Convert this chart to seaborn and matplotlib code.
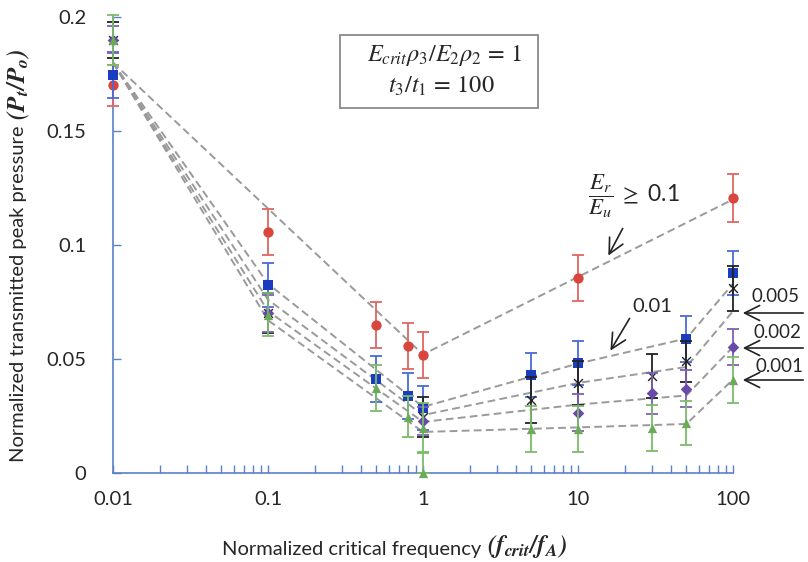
import numpy as np
import pandas as pd
import matplotlib
matplotlib.use("Agg")
import matplotlib.pyplot as plt
from matplotlib.patches import Rectangle
import seaborn as sns

# ---------------- data ----------------
# markers (mean +/- error)
red_x = [0.01, 0.1, 0.5, 0.8, 1, 10, 100]
red_y = [0.170, 0.1057, 0.065, 0.0557, 0.0518, 0.0855, 0.1206]
red_e = [0.009, 0.010, 0.010, 0.010, 0.010, 0.010, 0.0105]

blue_x = [0.01, 0.1, 0.5, 0.8, 1, 5, 10, 50, 100]
blue_y = [0.1745, 0.0825, 0.0412, 0.0338, 0.0285, 0.043, 0.0482, 0.0588, 0.0877]
blue_e = [0.010, 0.0095, 0.010, 0.010, 0.0095, 0.0098, 0.0098, 0.010, 0.0095]

black_x = [0.01, 0.1, 1, 5, 10, 30, 50, 100]
black_y = [0.190, 0.0702, 0.0246, 0.032, 0.0395, 0.0425, 0.049, 0.081]
black_e = [0.008, 0.0088, 0.0088, 0.010, 0.0095, 0.0095, 0.009, 0.010]

purple_x = [0.01, 0.1, 1, 10, 30, 50, 100]
purple_y = [0.190, 0.070, 0.0228, 0.0265, 0.035, 0.037, 0.0553]
purple_e = [0.006, 0.008, 0.006, 0.008, 0.009, 0.008, 0.008]

green_x = [0.01, 0.1, 0.5, 0.8, 1, 5, 10, 30, 50, 100]
green_y = [0.190, 0.0695, 0.0373, 0.0246, 0.0197, 0.0193, 0.0193, 0.0197, 0.022, 0.0408]
green_e = [0.011, 0.0095, 0.010, 0.009, 0.011, 0.010, 0.010, 0.010, 0.0095, 0.010]
green_extra_x = [1]
green_extra_y = [0.0]
green_extra_up = [0.009]

# dashed trend lines
trend_red_x = [0.01, 1, 100]
trend_red_y = [0.18, 0.052, 0.12]
trend_x = [0.01, 0.1, 1, 10, 50, 100]
trend_blue_y = [0.18, 0.083, 0.029, 0.048, 0.059, 0.083]
trend_black_y = [0.18, 0.076, 0.0254, 0.0395, 0.0465, 0.071]
trend_purple_y = [0.18, 0.071, 0.0224, 0.030, 0.034, 0.0553]
trend_green_y = [0.18, 0.067, 0.018, 0.020, 0.0215, 0.041]

x_ticks = [0.01, 0.1, 1, 10, 100]
x_ticklabels = ["0.01", "0.1", "1", "10", "100"]
y_ticks = [0, 0.05, 0.1, 0.15, 0.2]
y_ticklabels = ["0", "0.05", "0.1", "0.15", "0.2"]

# ---------------- style ----------------
sns.set_theme(style="white")
plt.rcParams["font.family"] = ["Lato", "DejaVu Sans"]
plt.rcParams["mathtext.fontset"] = "stix"

W, H = 808, 562
fig = plt.figure(figsize=(W / 100, H / 100), dpi=100)
ax = fig.add_axes([113 / W, 1 - 473 / H, (733 - 113) / W, (473 - 17) / H])

axis_col = "#5b7fc8"
txt_col = "#262626"

# trend lines via seaborn
rows = []
for xv, yv in zip(trend_red_x, trend_red_y):
    rows.append(("r", xv, yv))
for name, ys in [("b", trend_blue_y), ("k", trend_black_y),
                 ("p", trend_purple_y), ("g", trend_green_y)]:
    for xv, yv in zip(trend_x, ys):
        rows.append((name, xv, yv))
tdf = pd.DataFrame(rows, columns=["series", "x", "y"])
sns.lineplot(data=tdf, x="x", y="y", units="series", estimator=None,
             color="#9a9a9a", lw=1.4, ax=ax, sort=False,
             dashes=False, linestyle=(0, (4, 2.2)), zorder=1)

series = [
    (red_x, red_y, red_e, "#d9463e", "#e06660", "o", 55, None),
    (blue_x, blue_y, blue_e, "#1a3cc0", "#4a6ad8", "s", 45, None),
    (black_x, black_y, black_e, "#222222", "#222222", "x", 40, 1.0),
    (purple_x, purple_y, purple_e, "#6a4aa8", "#7d60b8", "D", 35, None),
    (green_x, green_y, green_e, "#6aaa58", "#7cbb6a", "^", 45, None),
]
z = 3
for xs, ys, es, mcol, ecol, mk, s, lw in series:
    ax.errorbar(xs, ys, yerr=es, fmt="none", ecolor=ecol, elinewidth=1.3,
                capsize=4, capthick=1.3, zorder=z, clip_on=False)
    dfm = pd.DataFrame({"x": xs, "y": ys})
    kw = dict(linewidth=lw) if lw else dict(linewidth=0)
    sns.scatterplot(data=dfm, x="x", y="y", marker=mk, s=s, color=mcol,
                    ax=ax, zorder=z + 1, clip_on=False, **kw)
    z += 2

ax.errorbar(green_extra_x, green_extra_y, yerr=[[0], green_extra_up], fmt="none",
            ecolor="#7cbb6a", elinewidth=1.3, capsize=4, capthick=1.3,
            zorder=z, clip_on=False)
sns.scatterplot(x=green_extra_x, y=green_extra_y, marker="^", s=45,
                color="#6aaa58", linewidth=0, ax=ax, zorder=z + 1, clip_on=False)

ax.set_xscale("log")
ax.set_xlim(0.01, 100)
ax.set_ylim(0, 0.2)
ax.set_xticks(x_ticks)
ax.set_xticklabels(x_ticklabels)
ax.set_yticks(y_ticks)
ax.set_yticklabels(y_ticklabels)
ax.xaxis.set_minor_locator(matplotlib.ticker.LogLocator(base=10, subs=np.arange(2, 10)))
ax.xaxis.set_minor_formatter(matplotlib.ticker.NullFormatter())
ax.set_xlabel("")
ax.set_ylabel("")

for sp in ["top", "right"]:
    ax.spines[sp].set_visible(False)
for sp in ["left", "bottom"]:
    ax.spines[sp].set_color(axis_col)
    ax.spines[sp].set_linewidth(1.2)

ax.tick_params(axis="x", which="both", direction="in", length=6, width=1,
               bottom=True, color=axis_col, labelsize=14.5, labelcolor=txt_col, pad=13)
ax.tick_params(axis="y", which="both", direction="in", length=6, width=1,
               left=True, color=axis_col, labelsize=14.5, labelcolor=txt_col, pad=19)

# axis titles: plain text + bold italic math part
renderer = fig.canvas.get_renderer()
xt = fig.text(222 / W, 1 - 549 / H, "Normalized critical frequency",
              ha="left", va="center", fontsize=14.5, color=txt_col)
bb = xt.get_window_extent(renderer)
fig.text((bb.x1 + 6) / W, 1 - 547 / H, r"$\mathbfit{(f_{crit}/f_A)}$",
         ha="left", va="center", fontsize=18, color=txt_col)

yt = fig.text(19 / W, 1 - 462 / H, "Normalized transmitted peak pressure",
              ha="center", va="bottom", rotation=90, fontsize=14.5, color=txt_col)
bb = yt.get_window_extent(renderer)
fig.text(19 / W, (bb.y1 + 5) / H, r"$\mathbfit{(P_t/P_o)}$",
         ha="center", va="bottom", rotation=90, fontsize=18, color=txt_col)

# parameter box
fig.patches.append(Rectangle((340 / W, 1 - 108 / H), 198 / W, 73 / H,
                             transform=fig.transFigure, fill=False,
                             edgecolor="#8a8a8a", lw=1.3))
fig.text(445 / W, 1 - 55 / H, r"$E_{crit}\rho_3/E_2\rho_2\,=\,1$",
         ha="center", va="center", fontsize=17.5, color=txt_col)
fig.text(441 / W, 1 - 86 / H, r"$t_3/t_1\,=\,100$",
         ha="center", va="center", fontsize=17.5, color=txt_col)

# annotations (figure pixel positions)
def fp(px, py):
    return (px, H - py)

arrow_kw = dict(arrowstyle="->,head_length=0.9,head_width=0.45", color="#222222", lw=1.2)
fig.text(588 / W, 1 - 196 / H, r"$\dfrac{E_r}{E_u}\ \geq$ 0.1",
         ha="left", va="center", fontsize=16.5, color=txt_col)
ax.annotate("", xy=fp(607, 258), xytext=fp(624, 226), xycoords="figure pixels",
            textcoords="figure pixels", arrowprops=arrow_kw)
fig.text(632 / W, 1 - 307 / H, "0.01", ha="left", va="center",
         fontsize=14.5, color=txt_col)
ax.annotate("", xy=fp(609, 353), xytext=fp(631, 316), xycoords="figure pixels",
            textcoords="figure pixels", arrowprops=arrow_kw)
for label, ty, ay, tx in [("0.005", 296, 313, 752), ("0.002", 332, 348, 753),
                          ("0.001", 367, 380, 755)]:
    fig.text(tx / W, 1 - ty / H, label, ha="left", va="center",
             fontsize=13.5, color=txt_col)
    ax.annotate("", xy=fp(740, ay), xytext=fp(806, ay), xycoords="figure pixels",
                textcoords="figure pixels", arrowprops=arrow_kw)

fig.savefig("out.png", dpi=100)
